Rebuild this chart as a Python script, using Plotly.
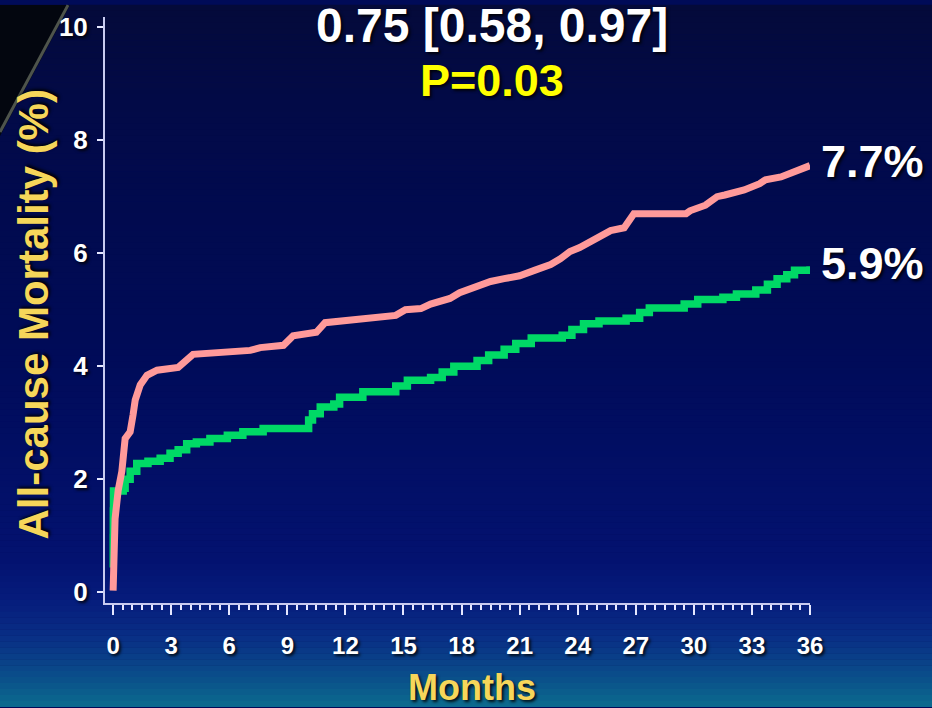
import plotly.graph_objects as go

# ---------------- data ----------------
ctrl_months = [0.0, 0.02, 0.1, 0.26, 0.45, 0.62, 0.88, 1.03, 1.14, 1.4, 1.75, 2.27, 3.36,
               4.13, 7.08, 7.6, 8.8, 9.3, 10.5, 10.95, 12.0, 13.3, 14.6, 15.1, 15.9, 16.4,
               17.4, 17.9, 18.7, 19.5, 20.2, 21.0, 21.8, 22.6, 23.1, 23.6, 24.1, 24.9, 25.7,
               26.4, 26.9, 29.6, 29.8, 30.6, 31.2, 31.6, 32.6, 33.4, 33.7, 34.5, 35.2, 36.0]
ctrl_values = [0.03, 0.5, 1.3, 1.8, 2.14, 2.72, 2.84, 3.14, 3.4, 3.67, 3.84, 3.93, 3.98,
               4.21, 4.28, 4.33, 4.37, 4.54, 4.6, 4.77, 4.8, 4.85, 4.9, 5.0, 5.02, 5.1,
               5.2, 5.3, 5.4, 5.5, 5.55, 5.6, 5.7, 5.8, 5.9, 6.03, 6.1, 6.26, 6.4,
               6.45, 6.7, 6.7, 6.75, 6.85, 7.0, 7.03, 7.12, 7.23, 7.3, 7.35, 7.45, 7.55]

trt_months = [0.0, 0.005, 0.01, 0.02, 0.52, 0.62, 0.88, 1.22, 1.8, 2.43, 2.94, 3.36, 3.8,
              4.3, 5.0, 5.9, 6.7, 7.75, 9.9, 10.1, 10.3, 10.7, 11.4, 11.7, 12.9, 14.6,
              15.2, 16.4, 17.0, 17.6, 18.8, 19.4, 20.2, 20.8, 21.6, 23.2, 23.7, 24.3,
              25.1, 26.5, 27.2, 27.7, 29.5, 30.2, 31.5, 32.2, 33.2, 33.8, 34.3, 34.8,
              35.2, 36.0]
trt_values = [0.44, 0.97, 1.44, 1.79, 1.84, 2.0, 2.14, 2.28, 2.32, 2.37, 2.46, 2.52, 2.63,
              2.66, 2.72, 2.78, 2.84, 2.9, 2.9, 3.05, 3.16, 3.28, 3.33, 3.45, 3.55, 3.65,
              3.75, 3.8, 3.9, 4.0, 4.1, 4.2, 4.3, 4.4, 4.5, 4.55, 4.65, 4.75,
              4.8, 4.85, 4.95, 5.03, 5.1, 5.18, 5.22, 5.28, 5.35, 5.45, 5.55, 5.62,
              5.7, 5.77]

ctrl_label = "7.7%"
trt_label = "5.9%"
title_text = "0.75 [0.58, 0.97]"
p_text = "P=0.03"
x_title = "Months"
y_title = "All-cause Mortality (%)"
x_ticks = list(range(0, 37, 3))
y_ticks = [0, 2, 4, 6, 8, 10]

# ---------------- layout geometry ----------------
W, H = 932, 708
PL, PR, PT, PB = 105, 810, 12, 603   # plot area in figure pixels


def fx(px):
    return (px - PL) / (PR - PL)


def fy(py):
    return (PB - py) / (PB - PT)


FONT = "Liberation Sans, Arial, sans-serif"
SHADOW = "2px 2px 3px rgba(0,0,0,0.85)"

fig = go.Figure()

fig.add_trace(go.Scatter(
    x=trt_months, y=trt_values, mode="lines",
    line=dict(color="#00d966", width=7.5, shape="hv"),
    cliponaxis=False, showlegend=False, hoverinfo="skip"))
fig.add_trace(go.Scatter(
    x=ctrl_months, y=ctrl_values, mode="lines",
    line=dict(color="#ff9a9a", width=7, shape="linear"),
    cliponaxis=False, showlegend=False, hoverinfo="skip"))

# ---------------- background gradient ----------------
stops = [(0, (4, 10, 58)), (110, (2, 10, 72)), (350, (0, 11, 88)), (560, (3, 18, 112)),
         (600, (6, 28, 124)), (640, (9, 48, 134)), (680, (10, 80, 138)), (708, (12, 108, 142))]


def col_at(py):
    for (a, ca), (b, cb) in zip(stops[:-1], stops[1:]):
        if a <= py <= b:
            t = (py - a) / (b - a) if b > a else 0
            c = [round(ca[i] + (cb[i] - ca[i]) * t) for i in range(3)]
            return "rgb(%d,%d,%d)" % tuple(c)
    return "rgb(%d,%d,%d)" % stops[-1][1]


shapes = []
step = 6
for y0 in range(0, H, step):
    y1 = min(H, y0 + step)
    shapes.append(dict(type="rect", xref="paper", yref="paper", layer="below",
                       x0=fx(0), x1=fx(W), y0=fy(y1), y1=fy(y0) + 0.0005,
                       fillcolor=col_at((y0 + y1) / 2), line=dict(width=0)))
# dark corner top-left
shapes.append(dict(type="path", xref="paper", yref="paper", layer="below",
                   path="M %f %f L %f %f L %f %f Z" % (fx(0), fy(0), fx(70), fy(0), fx(0), fy(132)),
                   fillcolor="#03060f", line=dict(width=0)))
shapes.append(dict(type="line", xref="paper", yref="paper", layer="below",
                   x0=fx(68), y0=fy(0), x1=fx(0), y1=fy(128),
                   line=dict(color="rgba(170,180,150,0.45)", width=3)))

annotations = [
    dict(text=title_text, xref="paper", yref="paper", x=fx(492), y=fy(21),
         showarrow=False, xanchor="center", yanchor="middle",
         font=dict(family=FONT, size=48, color="white", weight="bold", shadow=SHADOW)),
    dict(text=p_text, xref="paper", yref="paper", x=fx(492), y=fy(76),
         showarrow=False, xanchor="center", yanchor="middle",
         font=dict(family=FONT, size=45, color="#ffff00", weight="bold", shadow=SHADOW)),
    dict(text=ctrl_label, xref="x", yref="y", x=ctrl_months[-1], y=ctrl_values[-1],
         showarrow=False, xanchor="left", yanchor="middle", xshift=9, yshift=4,
         font=dict(family=FONT, size=45, color="white", weight="bold", shadow=SHADOW)),
    dict(text=trt_label, xref="x", yref="y", x=trt_months[-1], y=trt_values[-1],
         showarrow=False, xanchor="left", yanchor="middle", xshift=9, yshift=3,
         font=dict(family=FONT, size=45, color="white", weight="bold", shadow=SHADOW)),
    dict(text=x_title, xref="paper", yref="paper", x=fx(472), y=fy(688),
         showarrow=False, xanchor="center", yanchor="middle",
         font=dict(family=FONT, size=36, color="#f6d65a", weight="bold", shadow=SHADOW)),
    dict(text=y_title, xref="paper", yref="paper", x=fx(33), y=fy(312),
         showarrow=False, xanchor="center", yanchor="middle", textangle=-90,
         font=dict(family=FONT, size=42, color="#f6d65a", weight="bold", shadow=SHADOW)),
]

fig.update_layout(
    width=W, height=H,
    margin=dict(l=PL, r=W - PR, t=PT, b=H - PB),
    paper_bgcolor="#000b58", plot_bgcolor="rgba(0,0,0,0)",
    shapes=shapes, annotations=annotations,
    xaxis=dict(range=[-0.42, 36], showgrid=False, zeroline=False,
               showline=True, linecolor="#c8cbf0", linewidth=2,
               tickmode="array", tickvals=x_ticks, ticktext=[str(v) for v in x_ticks],
               ticks="outside", ticklen=10, tickwidth=2, tickcolor="#e6e8ff",
               ticklabelstandoff=10,
               minor=dict(dtick=0.5, tick0=0, ticks="outside", ticklen=5, tickwidth=1.5,
                          tickcolor="#e6e8ff", showgrid=False),
               tickfont=dict(family=FONT, size=24, color="white", weight="bold", shadow=SHADOW)),
    yaxis=dict(range=[-0.19, 10.18], showgrid=False, zeroline=False,
               showline=True, linecolor="#c8cbf0", linewidth=2,
               tickmode="array", tickvals=y_ticks, ticktext=[str(v) for v in y_ticks],
               ticks="outside", ticklen=6, tickwidth=2, tickcolor="#e6e8ff",
               ticklabelstandoff=4,
               tickfont=dict(family=FONT, size=26, color="white", weight="bold", shadow=SHADOW)),
)

fig.write_html("out.html", config={"displayModeBar": False},
               post_script="document.body.style.margin='0px';document.body.style.overflow='hidden';")
